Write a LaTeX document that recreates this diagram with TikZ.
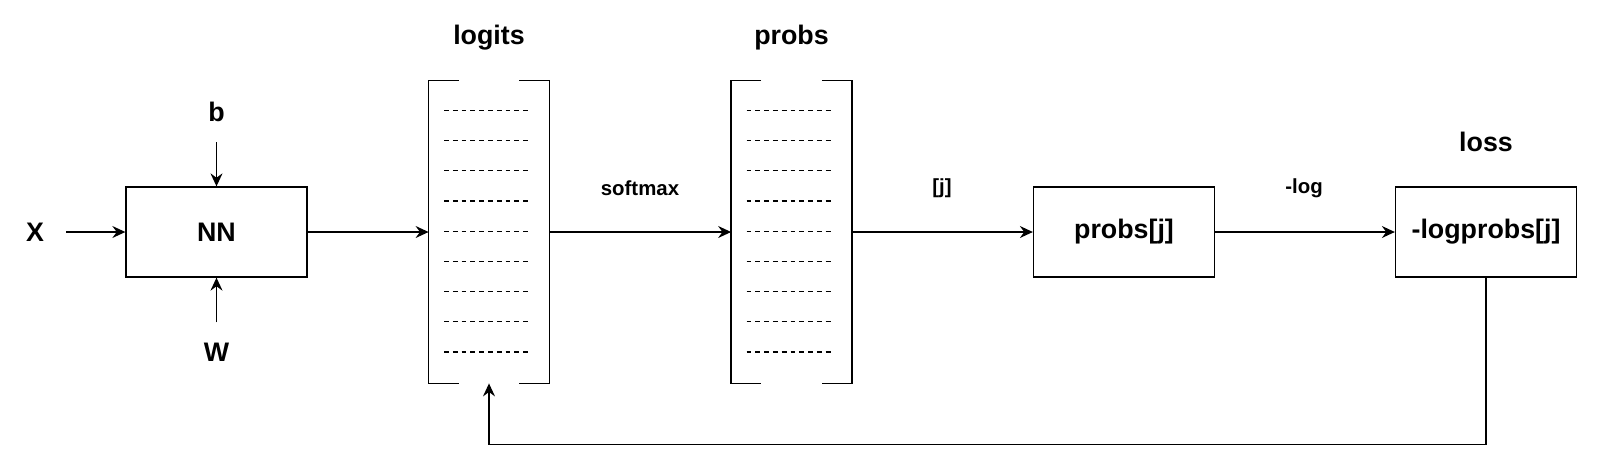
\documentclass[tikz,border=0pt]{standalone}
\usepackage{fontspec}
\setmainfont{Liberation Sans}
\usetikzlibrary{arrows.meta}

\begin{document}
\begin{tikzpicture}[x=0.5pt,y=-0.5pt,
  lbl/.style={font=\fontsize{13.4}{16}\selectfont\bfseries, inner sep=0pt},
  small/.style={font=\fontsize{10.2}{12}\selectfont\bfseries, inner sep=0pt},
  box/.style={draw, line width=0.65pt, minimum width=90.5pt, minimum height=45pt, inner sep=0pt,
    font=\fontsize{13.4}{16}\selectfont\bfseries},
  vec/.style={minimum width=60pt, minimum height=151pt, inner sep=0pt},
  flow/.style={-{Stealth[length=6.5pt,width=6pt,inset=2.2pt]}, line width=0.65pt},
  rowdash/.style={line width=0.6pt, dash pattern=on 2.4pt off 2pt}]
%\draw [red!40](0,0) grid[step=50] (1600,462);
\useasboundingbox (0,0) rectangle (1600,462);

\node[lbl] (inX) at (35,232) {X};
\node[box] (nn) at (216.5,232) {NN};
\node[lbl] (bias) at (216.5,112) {b};
\node[lbl] (wts) at (216.5,352) {W};

\node[vec] (logits) at (489,232) {};
\node[vec] (probs) at (791.5,232) {};
\node[lbl] (logitsT) at (489,38) {logits};
\node[lbl] (probsT) at (791.5,38) {probs};

\node[box] (pj) at (1124,232) {probs[j]};
\node[box] (nll) at (1486,232) {-logprobs[j]};
\node[lbl] (lossT) at (1486,142) {loss};

\node[small] (smx) at (640,188) {softmax};
\node[small] (idx) at (942,188) {[j]};
\node[small] (neglog) at (1304,188) {-log};

% vectors drawn as brackets with dashed rows
\foreach \v in {logits,probs} {
  \draw[line width=0.65pt] (\v.north west) ++(30,0) -- (\v.north west) -- (\v.south west) -- ++(30,0);
  \draw[line width=0.65pt] (\v.north east) ++(-30,0) -- (\v.north east) -- (\v.south east) -- ++(-30,0);
  \foreach \k in {0,...,8}
    \draw[rowdash] ([shift={(-45,29.7+30.2*\k)}]\v.north) -- ++(87,0);
}

\draw[flow, shorten <=11pt] (inX) -- (nn);
\draw[flow, shorten <=10pt] (bias) -- (nn);
\draw[flow, shorten <=10pt] (wts) -- (nn);
\draw[flow] (nn) -- (logits);
\draw[flow] (logits) -- (probs);
\draw[flow] (probs) -- (pj);
\draw[flow] (pj) -- (nll);
\draw[flow] (nll.south) -- ++(0,167) -| (logits.south);
\end{tikzpicture}
\end{document}
